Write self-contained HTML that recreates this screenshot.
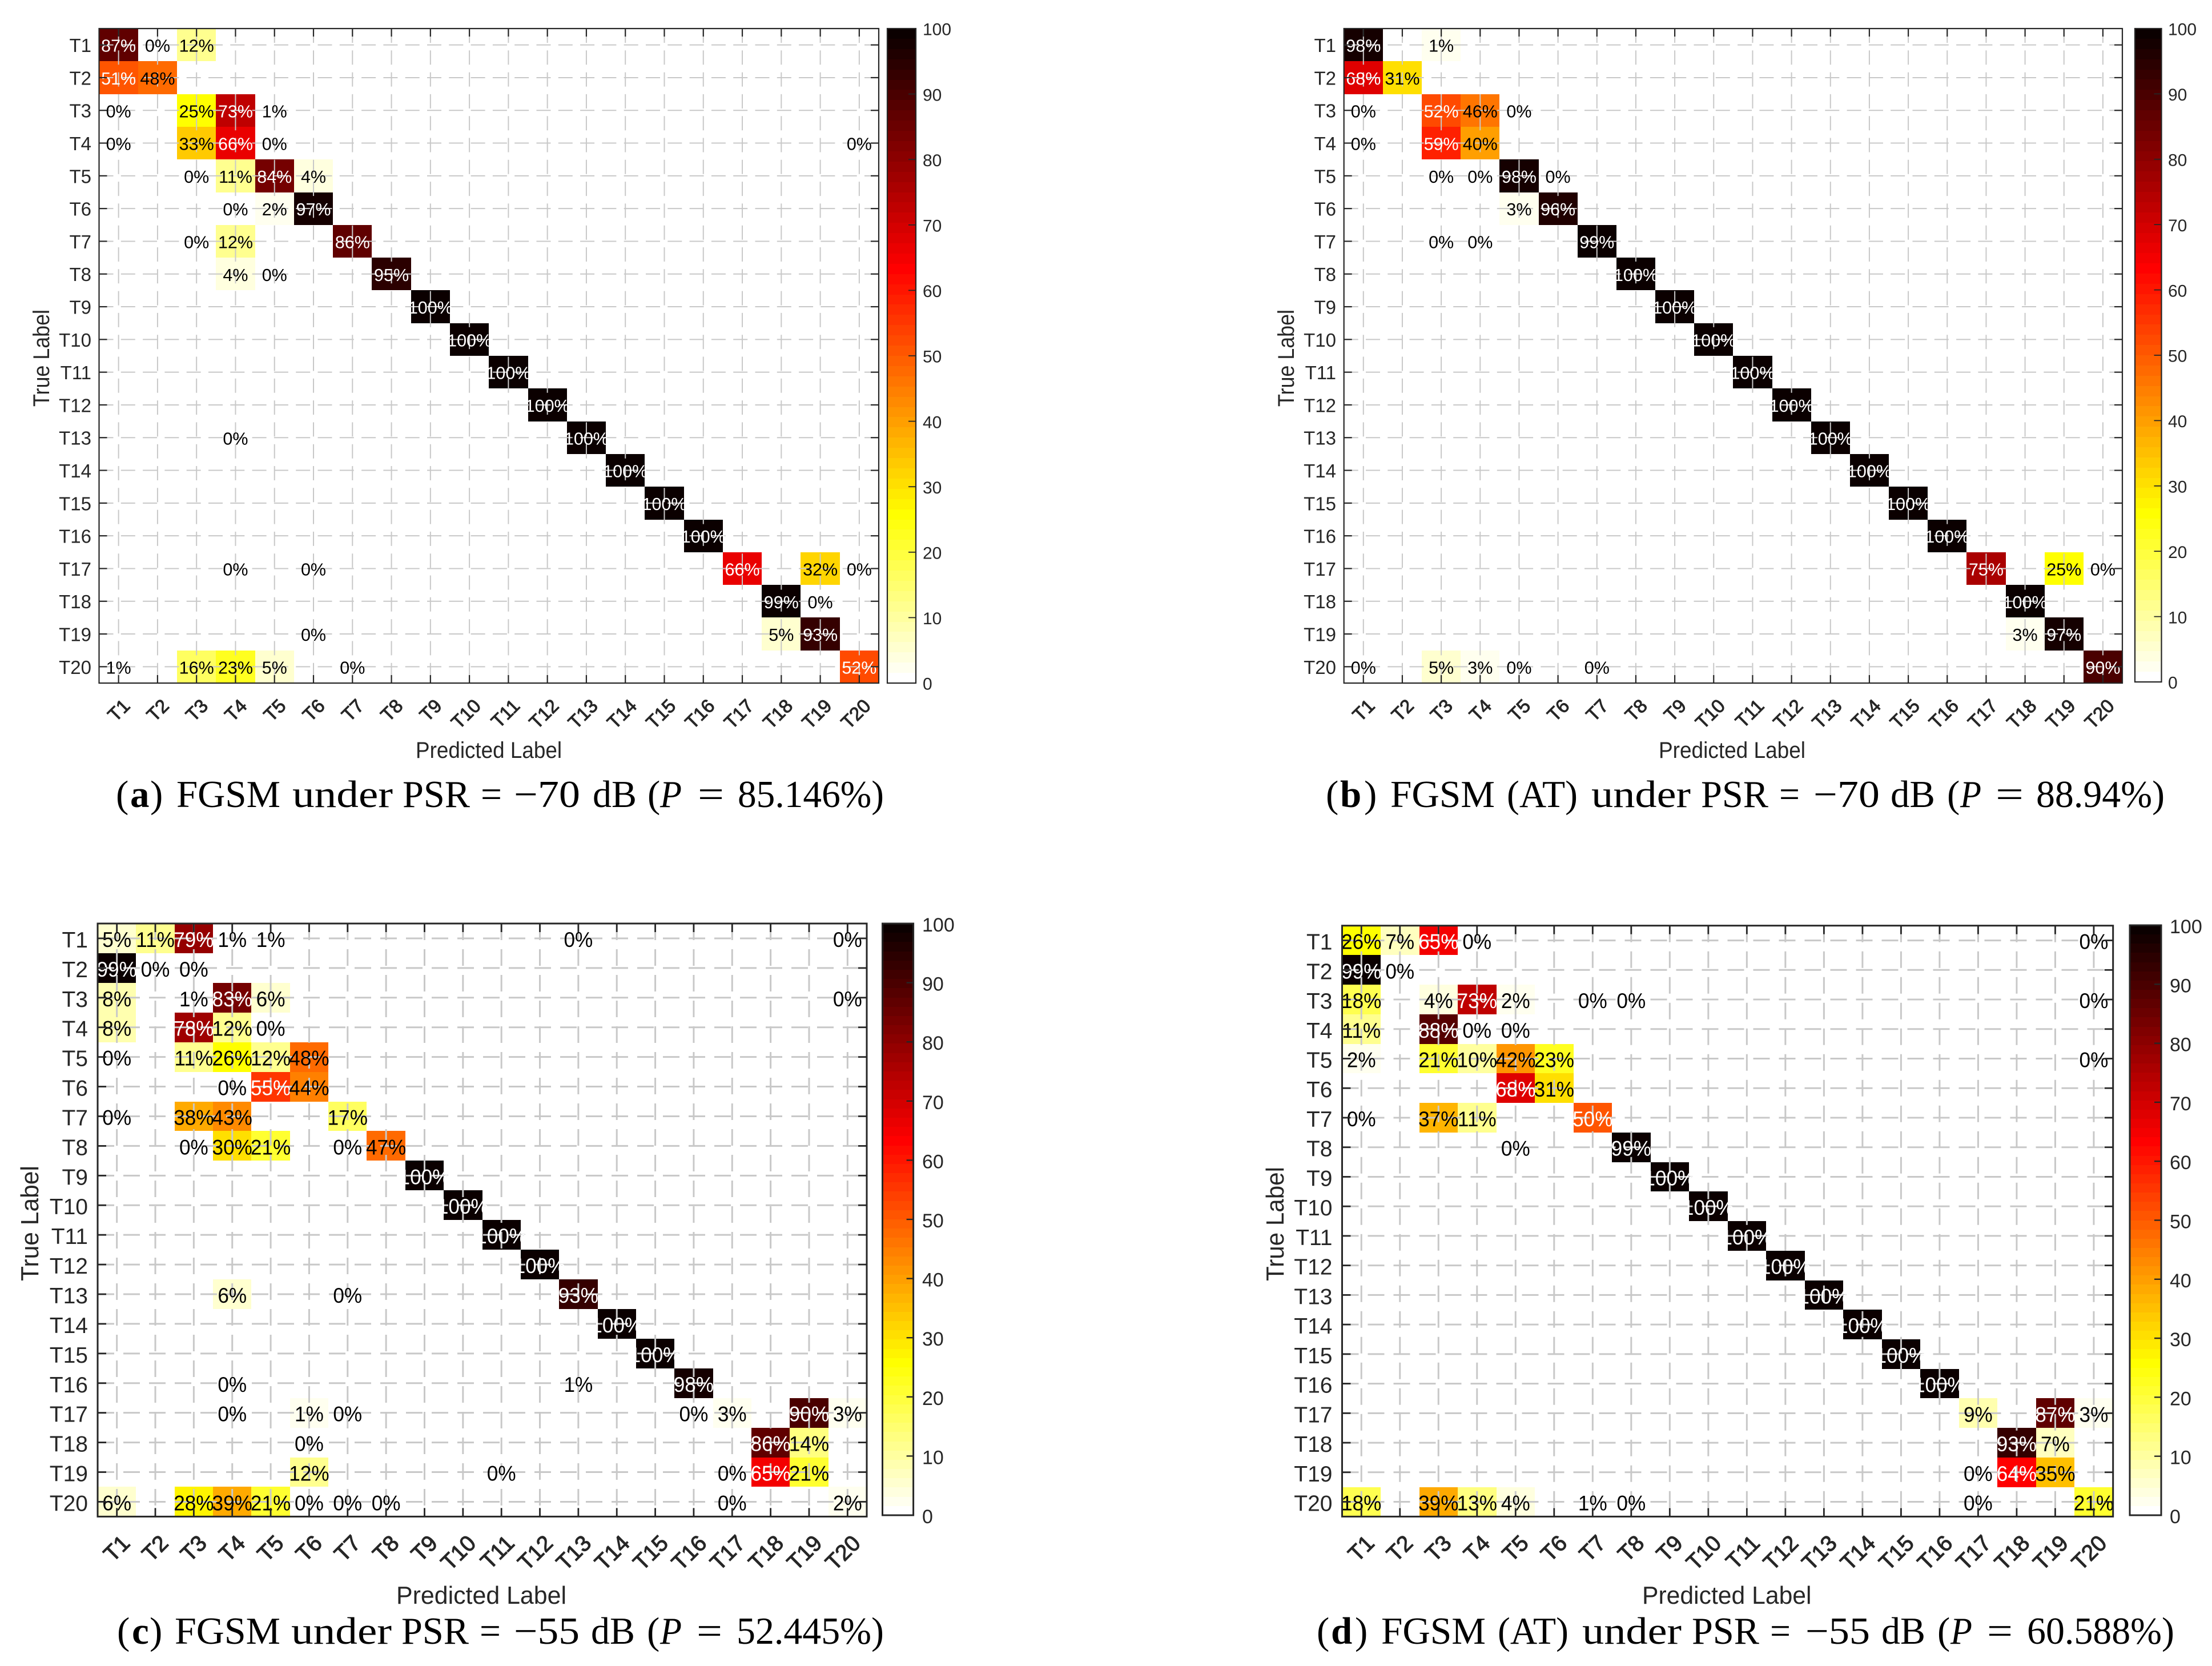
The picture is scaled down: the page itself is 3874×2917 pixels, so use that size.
<!DOCTYPE html>
<html lang="en">
<head>
<meta charset="utf-8">
<title>FGSM confusion matrices</title>
<style>
html,body{margin:0;padding:0;background:#fff;}
svg{display:block;}
text{font-family:"Liberation Sans",Arial,sans-serif;}
.cap{font-family:"Liberation Serif","Times New Roman",serif;fill:#000;}
</style>
</head>
<body>
<svg id="figure" xmlns="http://www.w3.org/2000/svg" width="3874" height="2917" viewBox="0 0 3874 2917"></svg>
<script>
const categories = ['T1','T2','T3','T4','T5','T6','T7','T8','T9','T10','T11','T12','T13','T14','T15','T16','T17','T18','T19','T20'];
const colorbarTicks = [0,10,20,30,40,50,60,70,80,90,100];

const panelAValues = [
  {T1:87,T2:0,T3:12},
  {T1:51,T2:48},
  {T1:0,T3:25,T4:73,T5:1},
  {T1:0,T3:33,T4:66,T5:0,T20:0},
  {T3:0,T4:11,T5:84,T6:4},
  {T4:0,T5:2,T6:97},
  {T3:0,T4:12,T7:86},
  {T4:4,T5:0,T8:95},
  {T9:100},
  {T10:100},
  {T11:100},
  {T12:100},
  {T4:0,T13:100},
  {T14:100},
  {T15:100},
  {T16:100},
  {T4:0,T6:0,T17:66,T19:32,T20:0},
  {T18:99,T19:0},
  {T6:0,T18:5,T19:93},
  {T1:1,T3:16,T4:23,T5:5,T7:0,T20:52}
];
const panelBValues = [
  {T1:98,T3:1.8},
  {T1:68,T2:31},
  {T1:0,T3:52,T4:46,T5:0},
  {T1:0,T3:59,T4:40},
  {T3:0,T4:0,T5:98,T6:0},
  {T5:3,T6:96},
  {T3:0,T4:0,T7:99},
  {T8:100},
  {T9:100},
  {T10:100},
  {T11:100},
  {T12:100},
  {T13:100},
  {T14:100},
  {T15:100},
  {T16:100},
  {T17:75,T19:25,T20:0},
  {T18:100},
  {T18:3,T19:97},
  {T1:0,T3:5,T4:3,T5:0,T7:0,T20:90}
];
const panelCValues = [
  {T1:5,T2:11,T3:79,T4:1,T5:1,T13:0,T20:0},
  {T1:99,T2:0,T3:0},
  {T1:8,T3:1,T4:83,T5:6,T20:0},
  {T1:8,T3:78,T4:12,T5:0},
  {T1:0,T3:11,T4:26,T5:12,T6:48},
  {T4:0,T5:55,T6:44},
  {T1:0,T3:38,T4:43,T7:17},
  {T3:0,T4:30,T5:21,T7:0,T8:47},
  {T9:100},
  {T10:100},
  {T11:100},
  {T12:100},
  {T4:6,T7:0,T13:93},
  {T14:100},
  {T15:100},
  {T4:0,T13:1,T16:98},
  {T4:0,T6:1.8,T7:0,T16:0,T17:3,T19:90,T20:3},
  {T6:0,T18:86,T19:14},
  {T6:12,T11:0,T17:0,T18:65,T19:21},
  {T1:6,T3:28,T4:39,T5:21,T6:0,T7:0,T8:0,T17:0,T20:2}
];
const panelDValues = [
  {T1:26,T2:7,T3:65,T4:0,T20:0},
  {T1:99,T2:0},
  {T1:18,T3:4,T4:73,T5:2,T7:0,T8:0,T20:0},
  {T1:11,T3:88,T4:0,T5:0},
  {T1:2,T3:21,T4:10,T5:42,T6:23,T20:0},
  {T5:68,T6:31},
  {T1:0,T3:37,T4:11,T7:50},
  {T5:0,T8:99},
  {T9:100},
  {T10:100},
  {T11:100},
  {T12:100},
  {T13:100},
  {T14:100},
  {T15:100},
  {T16:100},
  {T17:9,T19:87,T20:3},
  {T18:93,T19:7},
  {T17:0,T18:64,T19:35},
  {T1:18,T3:39,T4:13,T5:4,T7:1,T8:0,T17:0,T20:21}
];

const smallStyle = {axisW:2.2,tickLen:14,tickW:2.2,gridW:2,dash:'25 13.3',cellFont:30.5,cellSx:1,cellDy:12,tickFont:33,tickDy:12.4,xDx:22,xDy:42,cbFont:30,cbDy:11.7,cbW:2.2,cbTick:13,cbTickW:1.8,labelFont:40,xStroke:1};
const bigStyle = {axisW:3,tickLen:15,tickW:2.8,gridW:3,dash:'29 16',cellFont:37,cellSx:0.95,cellDy:15,tickFont:39,tickDy:16,xDx:25,xDy:49,cbFont:34,cbDy:14,cbW:3,cbTick:12,cbTickW:2.4,labelFont:44,xStroke:1.1};

const panels = [
  {key:'a',values:panelAValues,style:smallStyle,left:173.5,right:1539,top:50,bottom:1196,cbL:1554,cbR:1604,cbT:50,cbB:1196,cbX:1616,yTickX:160,
   tlX:86,tlTop:542,tlBot:712,plL:728,plR:984,plY:1327,capY:1413,
   caption:[['(',203],['a',228,0,'b'],[')',263],['FGSM',309,182],['under',512,176],['PSR',705,118],['=',842,37],['−70',900,116],['dB',1038,77],['(',1134],['P',1156,38,'i'],['=',1222,46],['85.146%)',1292,256]]},
  {key:'b',values:panelBValues,style:smallStyle,left:2353.7,right:3717,top:50,bottom:1196,cbL:3739,cbR:3785.5,cbT:50,cbB:1194,cbX:3797,yTickX:2340,
   tlX:2266,tlTop:542,tlBot:712,plL:2905,plR:3162,plY:1327,capY:1413,
   caption:[['(',2322],['b',2347,0,'b'],[')',2389],['FGSM',2435,183],['(AT)',2639,124],['under',2787,174],['PSR',2979,118],['=',3116,36],['−70',3176,116],['dB',3311,78],['(',3410],['P',3433,37,'i'],['=',3495,49],['88.94%)',3566,225]]},
  {key:'c',values:panelCValues,style:bigStyle,left:171,right:1518,top:1617,bottom:2655.4,cbL:1545.5,cbR:1599.6,cbT:1617,cbB:2653,cbX:1615,yTickX:154,
   tlX:67,tlTop:2041,tlBot:2243,plL:694,plR:992,plY:2808,capY:2878,
   caption:[['(',205],['c',231,0,'b'],[')',262],['FGSM',306,185],['under',510,176],['PSR',703,118],['=',840,37],['−55',900,115],['dB',1035,77],['(',1133],['P',1156,38,'i'],['=',1220,45],['52.445%)',1290,258]]},
  {key:'d',values:panelDValues,style:bigStyle,left:2350.5,right:3700.7,top:1620.7,bottom:2655.4,cbL:3730,cbR:3785,cbT:1620,cbB:2653,cbX:3800,yTickX:2333.5,
   tlX:2248,tlTop:2043,tlBot:2243,plL:2876,plR:3172.5,plY:2808,capY:2878,
   caption:[['(',2306],['d',2331,0,'b'],[')',2373],['FGSM',2419,183],['(AT)',2623,124],['under',2771,174],['PSR',2963,118],['=',3100,36],['−55',3162,113],['dB',3295,77],['(',3393],['P',3416,38,'i'],['=',3480,45],['60.588%)',3550,258]]}
];

const NS = 'http://www.w3.org/2000/svg';
const ink = '#262626';
const gridColor = '#c8c8c8';
const figure = document.getElementById('figure');

function mk(tag, parent, attrs) {
  const node = document.createElementNS(NS, tag);
  for (const k in attrs) node.setAttribute(k, attrs[k]);
  parent.appendChild(node);
  return node;
}

function hotReversed(value) {
  const level = Math.max(0, Math.min(63, Math.floor(value * 0.64)));
  const i = 63 - level;
  const r = i < 24 ? (i + 1) / 24 : 1;
  const g = i < 24 ? 0 : (i < 48 ? (i - 23) / 24 : 1);
  const b = i < 48 ? 0 : (i - 47) / 16;
  return 'rgb(' + Math.round(r * 255) + ',' + Math.round(g * 255) + ',' + Math.round(b * 255) + ')';
}

function drawPanel(p) {
  const s = p.style;
  const n = categories.length;
  const cw = (p.right - p.left) / n;
  const ch = (p.bottom - p.top) / n;
  const xAt = function (i) { return p.left + (i + 0.5) * cw; };
  const yAt = function (i) { return p.top + (i + 0.5) * ch; };
  const panel = mk('g', figure, {});
  
  

  const heat = mk('g', panel, {'shape-rendering':'crispEdges'});
  
  

  const grid = mk('g', panel, {stroke:gridColor, 'stroke-width':s.gridW, 'stroke-dasharray':s.dash, fill:'none'});
  
  
  categories.forEach(function (cat, i) {
    const h = mk('line', grid, {x1:p.left, x2:p.right, y1:yAt(i), y2:yAt(i)});
    
    
    const w = mk('line', grid, {x1:xAt(i), x2:xAt(i), y1:p.top, y2:p.bottom});
    
    
  });

  const labels = mk('g', panel, {'text-anchor':'middle'});
  
  

  p.values.forEach(function (row, r) {
    categories.forEach(function (cat, c) {
      if (!(cat in row)) return;
      const v = row[cat];
      const x0 = Math.round(p.left + c * cw), x1 = Math.round(p.left + (c + 1) * cw);
      const y0 = Math.round(p.top + r * ch), y1 = Math.round(p.top + (r + 1) * ch);
      const cell = mk('rect', heat, {x:x0, y:y0, width:x1 - x0, height:y1 - y0, fill:hotReversed(v)});
      
      
      const t = mk('text', labels, {
        transform:'translate(' + xAt(c) + ',' + (yAt(r) + s.cellDy) + ') scale(' + s.cellSx + ',1)',
        'font-size':s.cellFont,
        fill:v >= 50 ? '#fff' : '#000'
      });
      
      
      t.textContent = Math.floor(v) + '%';
    });
  });

  const ticks = mk('g', panel, {stroke:ink, 'stroke-width':s.tickW});
  
  
  const yLabels = mk('g', panel, {fill:ink, 'text-anchor':'end', 'font-size':s.tickFont});
  
  
  const xLabels = mk('g', panel, {fill:ink, stroke:ink, 'stroke-width':s.xStroke, 'text-anchor':'end', 'font-size':s.tickFont});
  
  

  categories.forEach(function (cat, i) {
    const tickSpecs = [
      [p.left, yAt(i), p.left + s.tickLen, yAt(i)],
      [p.right, yAt(i), p.right - s.tickLen, yAt(i)],
      [xAt(i), p.top, xAt(i), p.top + s.tickLen],
      [xAt(i), p.bottom, xAt(i), p.bottom - s.tickLen]
    ];
    tickSpecs.forEach(function (q) {
      const tk = mk('line', ticks, {x1:q[0], y1:q[1], x2:q[2], y2:q[3]});
      
      
    });
    const yl = mk('text', yLabels, {x:p.yTickX, y:yAt(i) + s.tickDy});
    
    
    yl.textContent = cat;
    const xl = mk('text', xLabels, {transform:'translate(' + (xAt(i) + s.xDx) + ',' + (p.bottom + s.xDy) + ') rotate(-45)'});
    
    
    xl.textContent = cat;
  });

  const box = mk('rect', panel, {x:p.left, y:p.top, width:p.right - p.left, height:p.bottom - p.top, fill:'none', stroke:ink, 'stroke-width':s.axisW});
  
  

  const yTitle = mk('text', panel, {transform:'translate(' + p.tlX + ',' + p.tlBot + ') rotate(-90)', 'font-size':s.labelFont, fill:ink, textLength:p.tlBot - p.tlTop, lengthAdjust:'spacingAndGlyphs'});
  
  
  yTitle.textContent = 'True Label';

  const xTitle = mk('text', panel, {x:p.plL, y:p.plY, 'font-size':s.labelFont, fill:ink, textLength:p.plR - p.plL, lengthAdjust:'spacingAndGlyphs'});
  
  
  xTitle.textContent = 'Predicted Label';

  const bar = mk('g', panel, {});
  
  
  const cbScale = function (v) { return p.cbB - (v / 100) * (p.cbB - p.cbT); };
  const swatches = mk('g', bar, {'shape-rendering':'crispEdges'});
  
  
  for (let k = 0; k < 64; k++) {
    const yB = Math.round(cbScale(k * 100 / 64));
    const yT = Math.round(cbScale((k + 1) * 100 / 64));
    const sw = mk('rect', swatches, {x:p.cbL, y:yT, width:p.cbR - p.cbL, height:yB - yT, fill:hotReversed((k + 0.5) * 100 / 64)});
    
    
  }
  colorbarTicks.forEach(function (v) {
    const tk = mk('line', bar, {x1:p.cbR, x2:p.cbR - s.cbTick, y1:cbScale(v), y2:cbScale(v), stroke:ink, 'stroke-width':s.cbTickW});
    
    
    const lb = mk('text', bar, {x:p.cbX, y:cbScale(v) + s.cbDy, 'font-size':s.cbFont, fill:ink});
    
    
    lb.textContent = String(v);
  });
  const frame = mk('rect', bar, {x:p.cbL, y:p.cbT, width:p.cbR - p.cbL, height:p.cbB - p.cbT, fill:'none', stroke:ink, 'stroke-width':s.cbW});
  
  

  const caption = mk('g', panel, {'font-size':67});
  
  
  p.caption.forEach(function (part) {
    const attrs = {x:part[1], y:p.capY, class:'cap'};
    if (part[2]) { attrs.textLength = part[2]; attrs.lengthAdjust = 'spacingAndGlyphs'; }
    if (part[3] === 'b') attrs['font-weight'] = 'bold';
    if (part[3] === 'i') attrs['font-style'] = 'italic';
    const word = mk('text', caption, attrs);
    
    
    word.textContent = part[0];
  });
}

panels.forEach(drawPanel);
</script>
</body>
</html>
